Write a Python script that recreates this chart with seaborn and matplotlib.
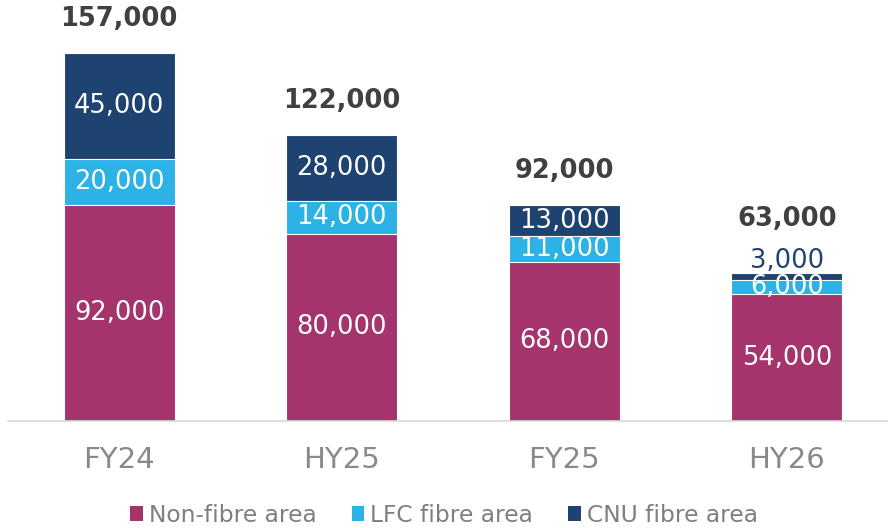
import matplotlib
matplotlib.use("Agg")
import matplotlib.pyplot as plt
import seaborn as sns
import pandas as pd
import numpy as np
from matplotlib.patches import Patch

categories = ["FY24", "HY25", "FY25", "HY26"]
non_fibre = [92000, 80000, 68000, 54000]
lfc_fibre = [20000, 14000, 11000, 6000]
cnu_fibre = [45000, 28000, 13000, 3000]
totals = [157000, 122000, 92000, 63000]
series_names = ["Non-fibre area", "LFC fibre area", "CNU fibre area"]

c_non = "#A4346B"
c_lfc = "#2CB2E4"
c_cnu = "#1F4371"

sns.set_theme(style="white")
plt.rcParams["font.family"] = ["DejaVu Sans"]

df = pd.DataFrame({
    "cat": categories,
    "non": non_fibre,
    "lfc": lfc_fibre,
    "cnu": cnu_fibre,
})
df["l2"] = df["non"] + df["lfc"]
df["l3"] = df["l2"] + df["cnu"]

fig = plt.figure(figsize=(8.88, 5.28), dpi=100)
W, H = 888, 528
ax = fig.add_axes([8 / W, (H - 420.7) / H, 890 / W, 420.7 / H])

kw = dict(width=0.5, edgecolor="white", linewidth=0.8, ax=ax, order=categories)
sns.barplot(data=df, x="cat", y="l3", color=c_cnu, saturation=1, **kw)
sns.barplot(data=df, x="cat", y="l2", color=c_lfc, saturation=1, **kw)
sns.barplot(data=df, x="cat", y="non", color=c_non, saturation=1, **kw)

ax.set_ylim(0, 179800)
ax.set_xlim(-0.5, len(categories) - 0.5)
ax.set_xlabel("")
ax.set_ylabel("")
ax.set_yticks([])
for s in ["left", "top", "right"]:
    ax.spines[s].set_visible(False)
ax.spines["bottom"].set_color("#D9D9D9")
ax.spines["bottom"].set_linewidth(1.2)
ax.tick_params(axis="x", length=0, pad=18, labelsize=21, labelcolor="#898989")

seg_fs = 18.5
for i, cat in enumerate(categories):
    n, l, c, t = non_fibre[i], lfc_fibre[i], cnu_fibre[i], totals[i]
    ax.text(i, n / 2, f"{n:,}", ha="center", va="center", color="white", fontsize=seg_fs)
    ax.text(i, n + l / 2, f"{l:,}", ha="center", va="center", color="white", fontsize=seg_fs)
    top = n + l + c
    small = c < 6000
    if small:
        ax.annotate(f"{c:,}", xy=(i, top), xytext=(0, 9), textcoords="offset points",
                    ha="center", va="center", color=c_cnu, fontsize=seg_fs)
    else:
        ax.text(i, n + l + c / 2, f"{c:,}", ha="center", va="center", color="white", fontsize=seg_fs)
    off = 39 if small else 24.5
    ax.annotate(f"{t:,}", xy=(i, top), xytext=(0, off), textcoords="offset points",
                ha="center", va="center", color="#404040", fontsize=18.5, fontweight="bold")

handles = [Patch(facecolor=col, edgecolor="none") for col in (c_non, c_lfc, c_cnu)]
fig.legend(handles, series_names, loc="center", bbox_to_anchor=(0.5, 1 - 515 / H),
           ncol=3, frameon=False, fontsize=16.8, labelcolor="#7F7F7F",
           handlelength=0.55, handleheight=0.6, handletextpad=0.25, columnspacing=1.5,
           borderaxespad=0)

fig.savefig("out.png", dpi=100)
